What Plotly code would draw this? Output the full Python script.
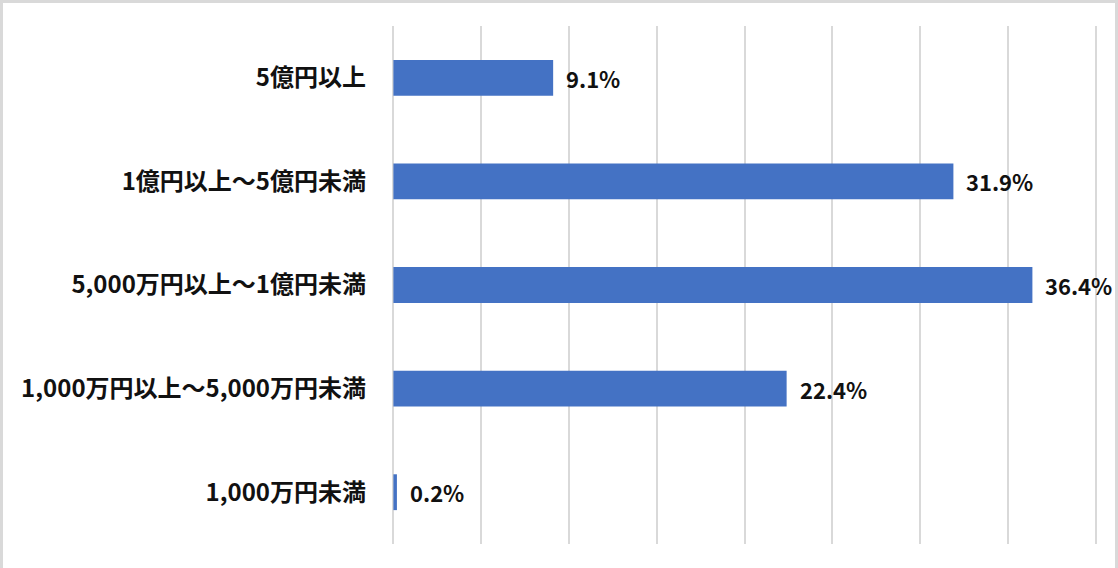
"""Horizontal bar chart of share by amount bracket."""

import plotly.graph_objects as go

W, H = 1118, 568
FONT = "Noto Sans CJK JP"
BAR_COLOR = "#4472C4"
GRID_COLOR = "#d9d9d9"

# bottom to top, as plotly draws categories on a y axis
categories = [
    "1,000万円未満",
    "1,000万円以上～5,000万円未満",
    "5,000万円以上～1億円未満",
    "1億円以上～5億円未満",
    "5億円以上",
]
shares = [0.2, 22.4, 36.4, 31.9, 9.1]
x_ticks = [0, 5, 10, 15, 20, 25, 30, 35, 40]

MARGIN = dict(l=392, r=21, t=26, b=24)


def main():
    fig = go.Figure(
        go.Bar(
            x=shares,
            y=categories,
            orientation="h",
            marker=dict(color=BAR_COLOR, line=dict(width=0)),
            hoverinfo="skip",
        )
    )

    # value labels just right of each bar end
    for cat, val in zip(categories, shares):
        fig.add_annotation(
            x=val,
            y=cat,
            text=f"<b>{val:.1f}%</b>",
            showarrow=False,
            xanchor="left",
            xshift=11,
            font=dict(family=FONT, size=22, color="#111111"),
        )

    # thin frame round the whole picture (top, left, right)
    pw = W - MARGIN["l"] - MARGIN["r"]
    ph = H - MARGIN["t"] - MARGIN["b"]
    fig.add_shape(
        type="rect",
        xref="paper",
        yref="paper",
        x0=-(MARGIN["l"] - 1.5) / pw,
        x1=1 + (MARGIN["r"] - 1.5) / pw,
        y0=-(MARGIN["b"] + 10) / ph,
        y1=1 + (MARGIN["t"] - 1.5) / ph,
        line=dict(color="#d9d9d9", width=3),
        layer="below",
    )

    fig.update_layout(
        width=W,
        height=H,
        margin=MARGIN,
        plot_bgcolor="white",
        paper_bgcolor="white",
        bargap=0.654,
        showlegend=False,
        font=dict(family=FONT, size=24, color="#111111"),
    )
    # small padding so the 0 and 40 grid lines are not dropped at the ends
    fig.update_xaxes(
        range=[-0.08, 40.08],
        tickvals=x_ticks,
        showticklabels=False,
        showgrid=True,
        gridcolor=GRID_COLOR,
        gridwidth=1.5,
        zeroline=False,
        showline=False,
        fixedrange=True,
    )
    fig.update_yaxes(
        categoryorder="array",
        categoryarray=categories,
        tickvals=categories,
        ticktext=[f"<b>{c}</b>" for c in categories],
        ticklabelstandoff=25,
        showgrid=False,
        zeroline=False,
        showline=False,
        fixedrange=True,
    )
    # page body margin would shift the figure by 8px
    fig.write_html(
        "out.html",
        config={"displayModeBar": False},
        post_script="document.body.style.margin='0';",
    )


if __name__ == "__main__":
    main()
